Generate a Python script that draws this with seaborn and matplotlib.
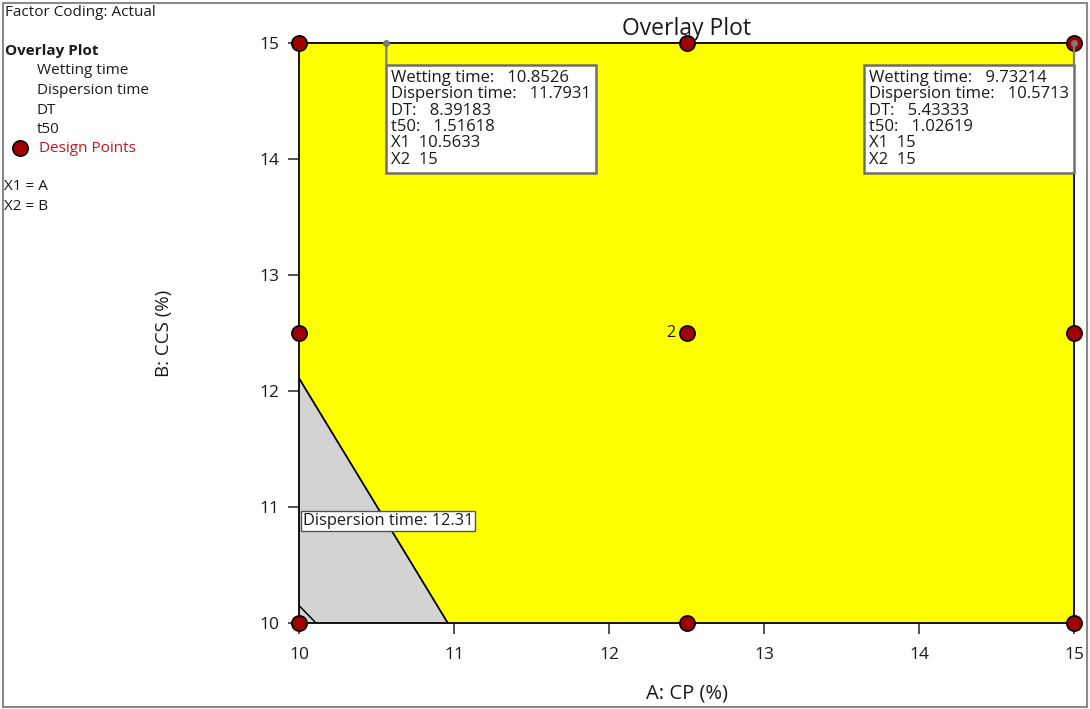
import matplotlib
matplotlib.use("Agg")
import matplotlib.pyplot as plt
from matplotlib.patches import Rectangle
import seaborn as sns
import pandas as pd

# Design space (A: CP %, B: CCS %)
a_range = [10, 15]
b_range = [10, 15]
x_ticks = [10, 11, 12, 13, 14, 15]
y_ticks = [10, 11, 12, 13, 14, 15]

# Design points of the experiment (replicates at the centre)
design_a = [10, 12.5, 15, 10, 12.5, 15, 10, 12.5, 15]
design_b = [15, 15, 15, 12.5, 12.5, 12.5, 10, 10, 10]
design_reps = [1, 1, 1, 1, 2, 1, 1, 1, 1]

# Region outside the Dispersion time limit (12.31) — bottom-left corner
disp_edge_a = [10.0, 10.96]
disp_edge_b = [12.11, 10.0]
disp_label = "Dispersion time: 12.31"
disp_label_pos = (10.0, 10.88)

# Short contour line in the extreme corner
corner_edge_a = [10.0, 10.11]
corner_edge_b = [10.15, 10.0]

# Flagged predictions
flag_names = ["Wetting time", "Dispersion time", "DT", "t50"]
flag1_vals = [10.8526, 11.7931, 8.39183, 1.51618]
flag1_x = [10.5633, 15]
flag2_vals = [9.73214, 10.5713, 5.43333, 1.02619]
flag2_x = [15, 15]

legend_items = ["Wetting time", "Dispersion time", "DT", "t50"]

sns.set_theme(style="white")
plt.rcParams["font.family"] = ["Open Sans", "DejaVu Sans"]

fig = plt.figure(figsize=(10.9, 7.09), dpi=100)
ax = fig.add_axes([299 / 1090, 86 / 709, 775 / 1090, 580 / 709])

TXT = "#1a1a1a"
PIN = "#7a7a7a"

# Feasible (yellow) background and infeasible grey corner
ax.add_patch(Rectangle((a_range[0], b_range[0]), a_range[1] - a_range[0],
                       b_range[1] - b_range[0], facecolor="#ffff00",
                       edgecolor="none", zorder=0))
poly_a = [disp_edge_a[0]] + disp_edge_a + [disp_edge_a[0]]
poly_b = [b_range[0]] + disp_edge_b + [b_range[0]]
ax.fill(poly_a, poly_b, facecolor="#d3d3d3", edgecolor="none", zorder=1)
ax.plot(disp_edge_a, disp_edge_b, color="black", lw=1.3, zorder=2)
ax.plot(corner_edge_a, corner_edge_b, color="black", lw=1.1, zorder=2)

ax.annotate(disp_label, disp_label_pos, xytext=(4, 0),
            textcoords="offset pixels", fontsize=11.8, va="center", ha="left",
            color=TXT, zorder=5,
            bbox=dict(boxstyle="square,pad=0.12", fc="white", ec="#555555",
                      lw=1))

# Design points
df = pd.DataFrame({"A": design_a, "B": design_b, "reps": design_reps})
sns.scatterplot(data=df, x="A", y="B", ax=ax, s=120, color="#a00000",
                edgecolor="black", linewidth=1.2, zorder=6, clip_on=False,
                legend=False)
for a, b, r in zip(design_a, design_b, design_reps):
    if r > 1:
        ax.annotate(str(r), (a, b), xytext=(-11, 0), textcoords="offset pixels",
                    ha="right", va="center", fontsize=11.5, color=TXT)


def flag_text(vals, xs):
    lines = [f"{n}:   {v:g}" for n, v in zip(flag_names, vals)]
    lines += [f"X1  {xs[0]:g}", f"X2  {xs[1]:g}"]
    return "\n".join(lines)


flag_fs = 12
pad_px = 0.3 * flag_fs * 100 / 72
drop_px = 22
box_style = dict(boxstyle="square,pad=0.3", fc="white", ec="#6e6e6e", lw=1.8)


def flag(vals, xs, side):
    # vertical pin from the flagged point down to the box corner
    ax.annotate("", xy=(xs[0], xs[1]), xytext=(0, -drop_px),
                textcoords="offset pixels",
                arrowprops=dict(arrowstyle="-", color=PIN, lw=1.6,
                                shrinkA=0, shrinkB=0), zorder=8)
    ax.plot(xs[0], xs[1], "o", ms=4, color=PIN, zorder=9, clip_on=False)
    dx = pad_px if side == "left" else -pad_px
    ax.annotate(flag_text(vals, xs), xy=(xs[0], xs[1]),
                xytext=(dx, -drop_px - pad_px), textcoords="offset pixels",
                ha=side, va="top", multialignment="left", fontsize=flag_fs,
                linespacing=1.03, color=TXT, zorder=7, bbox=box_style)


flag(flag1_vals, flag1_x, "left")
flag(flag2_vals, flag2_x, "right")

# Axes styling
ax.set_xlim(a_range)
ax.set_ylim(b_range)
ax.set_xticks(x_ticks)
ax.set_yticks(y_ticks)
ax.tick_params(axis="both", direction="out", length=8, width=1.2,
               color="#333333", labelsize=12.5, labelcolor=TXT, bottom=True,
               left=True)
ax.tick_params(axis="x", pad=9)
ax.tick_params(axis="y", pad=6)
for s in ax.spines.values():
    s.set_color("black")
    s.set_linewidth(1.3)
ax.set_xlabel("A: CP (%)", fontsize=14.5, labelpad=15, color=TXT)
ax.set_ylabel("B: CCS (%)", fontsize=13.5, labelpad=62, color=TXT)
ax.set_title("Overlay Plot", fontsize=16.5, pad=6, color=TXT)
ax.grid(False)

# Side legend panel
fs = 11
fig.text(5 / 1090, 1 - 12 / 709, "Factor Coding: Actual", fontsize=fs,
         va="center", ha="left", color=TXT)
fig.text(5 / 1090, 1 - 51 / 709, "Overlay Plot", fontsize=fs,
         fontweight="bold", va="center", ha="left", color=TXT)
for i, name in enumerate(legend_items):
    fig.text(37 / 1090, 1 - (71 + 19.5 * i) / 709, name, fontsize=fs,
             va="center", ha="left", color=TXT)
fig.text(39 / 1090, 1 - 148 / 709, "Design Points", fontsize=fs,
         va="center", ha="left", color="#c0181f")
fig.lines.append(plt.Line2D([20 / 1090], [1 - 148 / 709], marker="o",
                            ms=11, color="#a00000", mec="black", mew=1.2,
                            transform=fig.transFigure))
fig.text(4 / 1090, 1 - 187 / 709, "X1 = A", fontsize=fs, va="center",
         ha="left", color=TXT)
fig.text(4 / 1090, 1 - 207 / 709, "X2 = B", fontsize=fs, va="center",
         ha="left", color=TXT)

# Outer frame
fig.patches.append(Rectangle((3 / 1090, 2 / 709), 1084 / 1090, 704 / 709,
                             fill=False, ec="#8a8a8a", lw=1.5,
                             transform=fig.transFigure))

fig.savefig("out.png", dpi=100)
